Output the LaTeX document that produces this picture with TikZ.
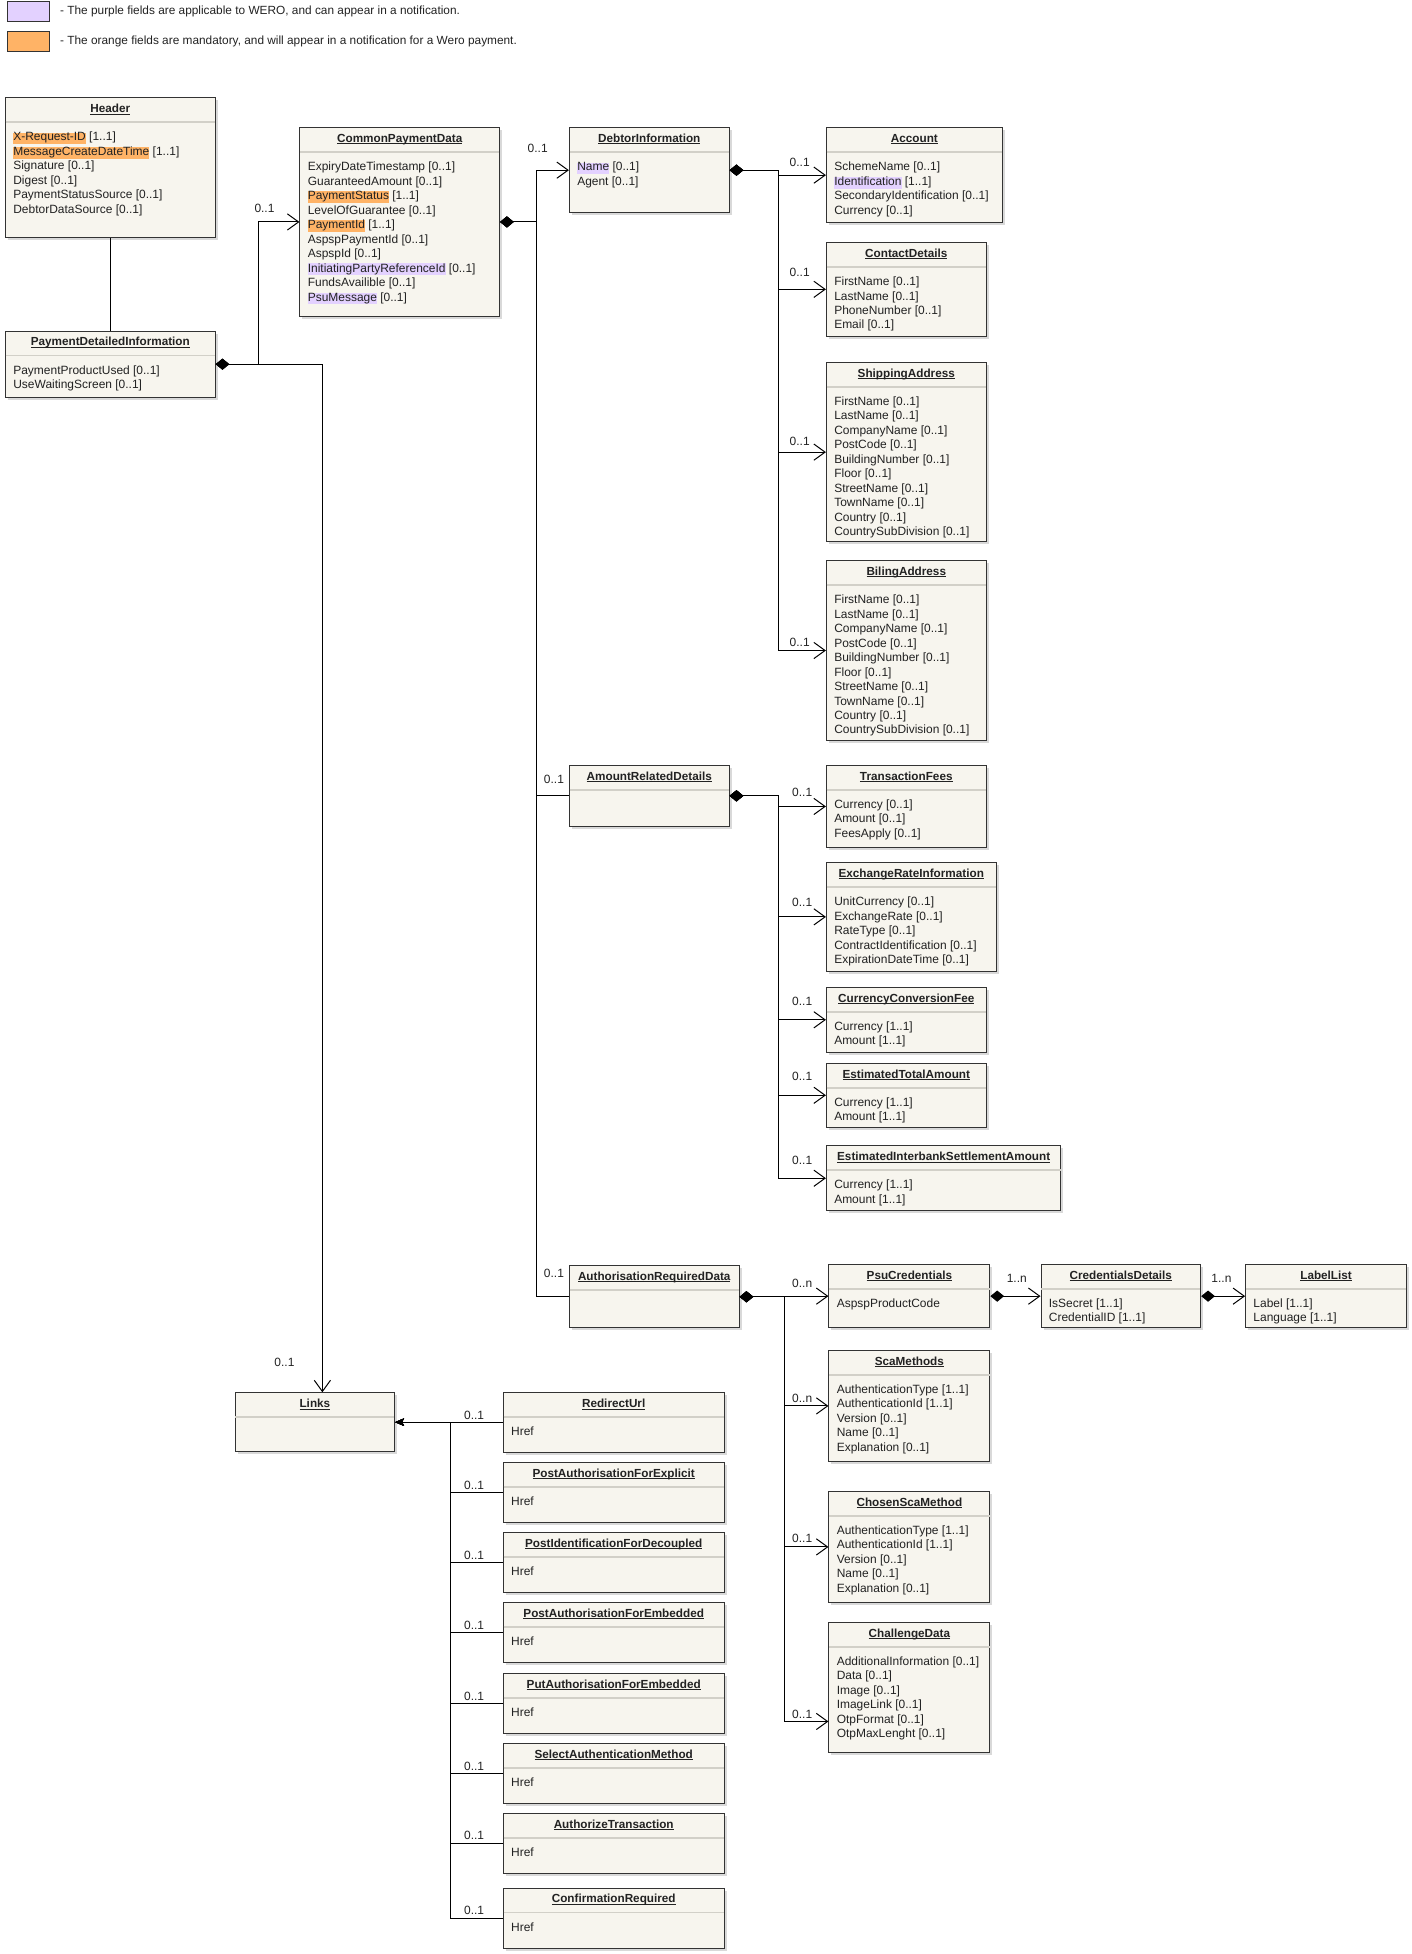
\documentclass[tikz,border=0pt]{standalone}
\usepackage{fontspec}
\setmainfont{Liberation Sans}
\usetikzlibrary{arrows.meta,shadows,calc}

\definecolor{clsfill}{HTML}{F7F5EE}
\definecolor{clsline}{HTML}{333333}
\definecolor{sepgray}{HTML}{D2D0C8}
\definecolor{txtgray}{HTML}{222222}
\definecolor{orangeF}{HTML}{FFB366}
\definecolor{purpleF}{HTML}{E3D1FF}

% highlighted fields
\newcommand{\orf}[1]{{\setlength{\fboxsep}{0pt}\colorbox{orangeF}{\rule[-2.6pt]{0pt}{8.8pt}#1}}}
\newcommand{\puf}[1]{{\setlength{\fboxsep}{0pt}\colorbox{purpleF}{\rule[-2.6pt]{0pt}{8.8pt}#1}}}
% tight underline for class names
\newcommand{\clsname}[1]{\setbox0\hbox{#1}\rlap{\rule[-1.4pt]{\wd0}{0.7pt}}\box0}

\newcommand{\addressfields}{FirstName [0..1]\\LastName [0..1]\\CompanyName [0..1]\\PostCode [0..1]\\BuildingNumber [0..1]\\Floor [0..1]\\StreetName [0..1]\\TownName [0..1]\\Country [0..1]\\CountrySubDivision [0..1]}
\newcommand{\scafields}{AuthenticationType [1..1]\\AuthenticationId [1..1]\\Version [0..1]\\Name [0..1]\\Explanation [0..1]}

\tikzset{
  cls/.style={draw=clsline, fill=clsfill, line width=0.8pt, anchor=north west, inner sep=0pt,
    drop shadow={shadow xshift=2pt, shadow yshift=-2pt, opacity=0.25, fill=black!60}},
  clstitle/.style={font=\fontsize{9.4}{11}\selectfont\bfseries, text=txtgray, inner sep=0pt, anchor=base},
  clsbody/.style={font=\fontsize{9.6}{11.6}\selectfont, text=txtgray, align=left, inner sep=0pt, anchor=north west},
  sep/.style={draw=sepgray, line width=1.3pt},
  mult/.style={font=\fontsize{9.6}{11}\selectfont, text=txtgray, inner sep=0pt},
  comp/.style={draw=black, line width=0.8pt, {Diamond[length=11pt,width=9pt]}-{Straight Barb[length=9pt,width=13pt]}},
  compline/.style={draw=black, line width=0.8pt, {Diamond[length=11pt,width=9pt]}-},
  agg/.style={draw=black, line width=0.8pt, -{Stealth[length=7pt,width=6pt,inset=1.5pt]}},
  assoc/.style={draw=black, line width=0.8pt},
  swatch/.style={draw=clsline, line width=0.8pt, anchor=north west, minimum width=33pt, minimum height=16pt, inner sep=0pt},
  legtxt/.style={font=\fontsize{9.5}{11}\selectfont, text=txtgray, inner sep=0pt, anchor=west}
}

% id, x, y, width, height, title, fields
\newcommand{\umlclass}[7]{%
  \node[cls, minimum width=#4pt, minimum height=#5pt] (#1) at (#2,#3) {};
  \node[clstitle] (#1-t) at ($(#1.north)+(0,12.3)$) {\clsname{#6}};
  \draw[sep] ($(#1.north west)+(0.6,20)$) -- ($(#1.north east)+(-0.6,20)$);
  \node[clsbody] (#1-b) at ($(#1.north west)+(6.5,25.7)$) {\rule{0pt}{9pt}#7};
}

\begin{document}
\begin{tikzpicture}[x=1pt,y=-1pt]
  \useasboundingbox (0,0) rectangle (1131,1566.2);

  % legend
  \node[swatch, fill=purpleF] (leg1) at (6,0.5) {};
  \node[legtxt] (leg1-t) at (48,9) {- The purple fields are applicable to WERO, and can appear in a notification.};
  \node[swatch, fill=orangeF] (leg2) at (6,24.5) {};
  \node[legtxt] (leg2-t) at (48,33) {- The orange fields are mandatory, and will appear in a notification for a Wero payment.};

  \umlclass{hdr}{4}{78}{168}{112}{Header}{\orf{X-Request-ID} [1..1]\\\orf{MessageCreateDateTime} [1..1]\\Signature [0..1]\\Digest [0..1]\\PaymentStatusSource [0..1]\\DebtorDataSource [0..1]}
  \umlclass{pdi}{4}{265}{168}{53}{PaymentDetailedInformation}{PaymentProductUsed [0..1]\\UseWaitingScreen [0..1]}
  \umlclass{cpd}{240}{102}{160}{151}{CommonPaymentData}{ExpiryDateTimestamp [0..1]\\GuaranteedAmount [0..1]\\\orf{PaymentStatus} [1..1]\\LevelOfGuarantee [0..1]\\\orf{PaymentId} [1..1]\\AspspPaymentId [0..1]\\AspspId [0..1]\\\puf{InitiatingPartyReferenceId} [0..1]\\FundsAvailible [0..1]\\\puf{PsuMessage} [0..1]}
  \umlclass{dbi}{456}{102}{128}{68}{DebtorInformation}{\puf{Name} [0..1]\\Agent [0..1]}
  \umlclass{acc}{662}{102}{141}{76}{Account}{SchemeName [0..1]\\\puf{Identification} [1..1]\\SecondaryIdentification [0..1]\\Currency [0..1]}
  \umlclass{cnt}{662}{194}{128}{75}{ContactDetails}{FirstName [0..1]\\LastName [0..1]\\PhoneNumber [0..1]\\Email [0..1]}
  \umlclass{shp}{662}{290}{128}{144}{ShippingAddress}{\addressfields}
  \umlclass{bil}{662}{449}{128}{144}{BilingAddress}{\addressfields}

  \umlclass{amt}{456}{613}{128}{49}{AmountRelatedDetails}{}
  \umlclass{fee}{662}{613}{128}{66}{TransactionFees}{Currency [0..1]\\Amount [0..1]\\FeesApply [0..1]}
  \umlclass{xri}{662}{691}{136}{87}{ExchangeRateInformation}{UnitCurrency [0..1]\\ExchangeRate [0..1]\\RateType [0..1]\\ContractIdentification [0..1]\\ExpirationDateTime [0..1]}
  \umlclass{ccf}{662}{791}{128}{52}{CurrencyConversionFee}{Currency [1..1]\\Amount [1..1]}
  \umlclass{eta}{662}{852}{128}{51}{EstimatedTotalAmount}{Currency [1..1]\\Amount [1..1]}
  \umlclass{eis}{662}{918}{188}{52}{EstimatedInterbankSettlementAmount}{Currency [1..1]\\Amount [1..1]}

  \umlclass{auth}{456}{1014}{136}{50}{AuthorisationRequiredData}{}
  \umlclass{psu}{664}{1013}{129}{51}{PsuCredentials}{AspspProductCode}
  \umlclass{crd}{834}{1013}{128}{51}{CredentialsDetails}{IsSecret [1..1]\\CredentialID [1..1]}
  \umlclass{lbl}{998}{1013}{129}{51}{LabelList}{Label [1..1]\\Language [1..1]}
  \umlclass{sca}{664}{1082}{129}{89}{ScaMethods}{\scafields}
  \umlclass{csm}{664}{1195}{129}{89}{ChosenScaMethod}{\scafields}
  \umlclass{chd}{664}{1300}{129}{104}{ChallengeData}{AdditionalInformation [0..1]\\Data [0..1]\\Image [0..1]\\ImageLink [0..1]\\OtpFormat [0..1]\\OtpMaxLenght [0..1]}

  \umlclass{lnk}{188}{1116}{128}{47}{Links}{}
  \foreach \n/\t/\y in {ru/RedirectUrl/1116, pae/PostAuthorisationForExplicit/1172,
      pid/PostIdentificationForDecoupled/1228, pem/PostAuthorisationForEmbedded/1284,
      put/PutAuthorisationForEmbedded/1341, sam/SelectAuthenticationMethod/1397,
      atx/AuthorizeTransaction/1453, cfr/ConfirmationRequired/1513} {
    \umlclass{\n}{403}{\y}{177}{48}{\t}{Href}
  }

  % bus points
  \coordinate (pdibus) at ([xshift=34pt]pdi.east);
  \coordinate (lnkin) at ([xshift=6pt]lnk.north);
  \coordinate (cpdbus) at ([xshift=29pt]cpd.east);
  \coordinate (dbibus) at ([xshift=39pt]dbi.east);
  \coordinate (amtbus) at ([xshift=39pt]amt.east);
  \coordinate (authbus) at ([xshift=36pt]auth.east);
  \coordinate (chdin) at ([yshift=25pt]chd.south west);
  \coordinate (lnkbus) at ([xshift=44pt]lnk.east);

  \draw[assoc] (hdr.south) -- (pdi.north);
  \draw[comp] (pdi.east) -- (pdibus) |- (cpd.west);
  \draw[comp] (pdi.east) -| (lnkin);

  \draw[comp] (cpd.east) -- (cpdbus) |- (dbi.west);
  \draw[compline] (cpd.east) -- (cpdbus) |- (amt.west);
  \draw[compline] (cpd.east) -- (cpdbus) |- (auth.west);

  \foreach \c in {acc,cnt,shp,bil}
    \draw[comp] (dbi.east) -- (dbibus) |- (\c.west);
  \foreach \c in {fee,xri,ccf,eta,eis}
    \draw[comp] (amt.east) -- (amtbus) |- (\c.west);
  \foreach \c in {psu,sca,csm,chdin}
    \draw[comp] (auth.east) -- (authbus) |- (\c);
  \draw[comp] (psu.east) -- (crd.west);
  \draw[comp] (crd.east) -- (lbl.west);

  \foreach \c in {ru,pae,pid,pem,put,sam,atx,cfr}
    \draw[agg] (\c.west) -| (lnkbus) -- (lnk.east);

  % multiplicities
  \node[mult] (m-cpd) at (212,167) {0..1};
  \node[mult] (m-lnk) at (228,1092) {0..1};
  \node[mult] (m-dbi) at (431,119) {0..1};
  \node[mult] (m-amt) at (444,625) {0..1};
  \node[mult] (m-auth) at (444,1021) {0..1};
  \node[mult] (m-acc) at (641,130) {0..1};
  \node[mult] (m-cnt) at (641,218) {0..1};
  \node[mult] (m-shp) at (641,354) {0..1};
  \node[mult] (m-bil) at (641,515) {0..1};
  \node[mult] (m-fee) at (643,635) {0..1};
  \node[mult] (m-xri) at (643,723) {0..1};
  \node[mult] (m-ccf) at (643,803) {0..1};
  \node[mult] (m-eta) at (643,863) {0..1};
  \node[mult] (m-eis) at (643,930) {0..1};
  \node[mult] (m-psu) at (643,1029) {0..n};
  \node[mult] (m-sca) at (643,1121) {0..n};
  \node[mult] (m-csm) at (643,1233) {0..1};
  \node[mult] (m-chd) at (643,1374) {0..1};
  \node[mult] (m-crd) at (815,1025) {1..n};
  \node[mult] (m-lbl) at (979,1025) {1..n};
  \foreach \c in {ru,pae,pid,pem,put,sam,atx,cfr}
    \node[mult] (m-\c) at ($(\c.west)+(-23,-6)$) {0..1};
\end{tikzpicture}
\end{document}
